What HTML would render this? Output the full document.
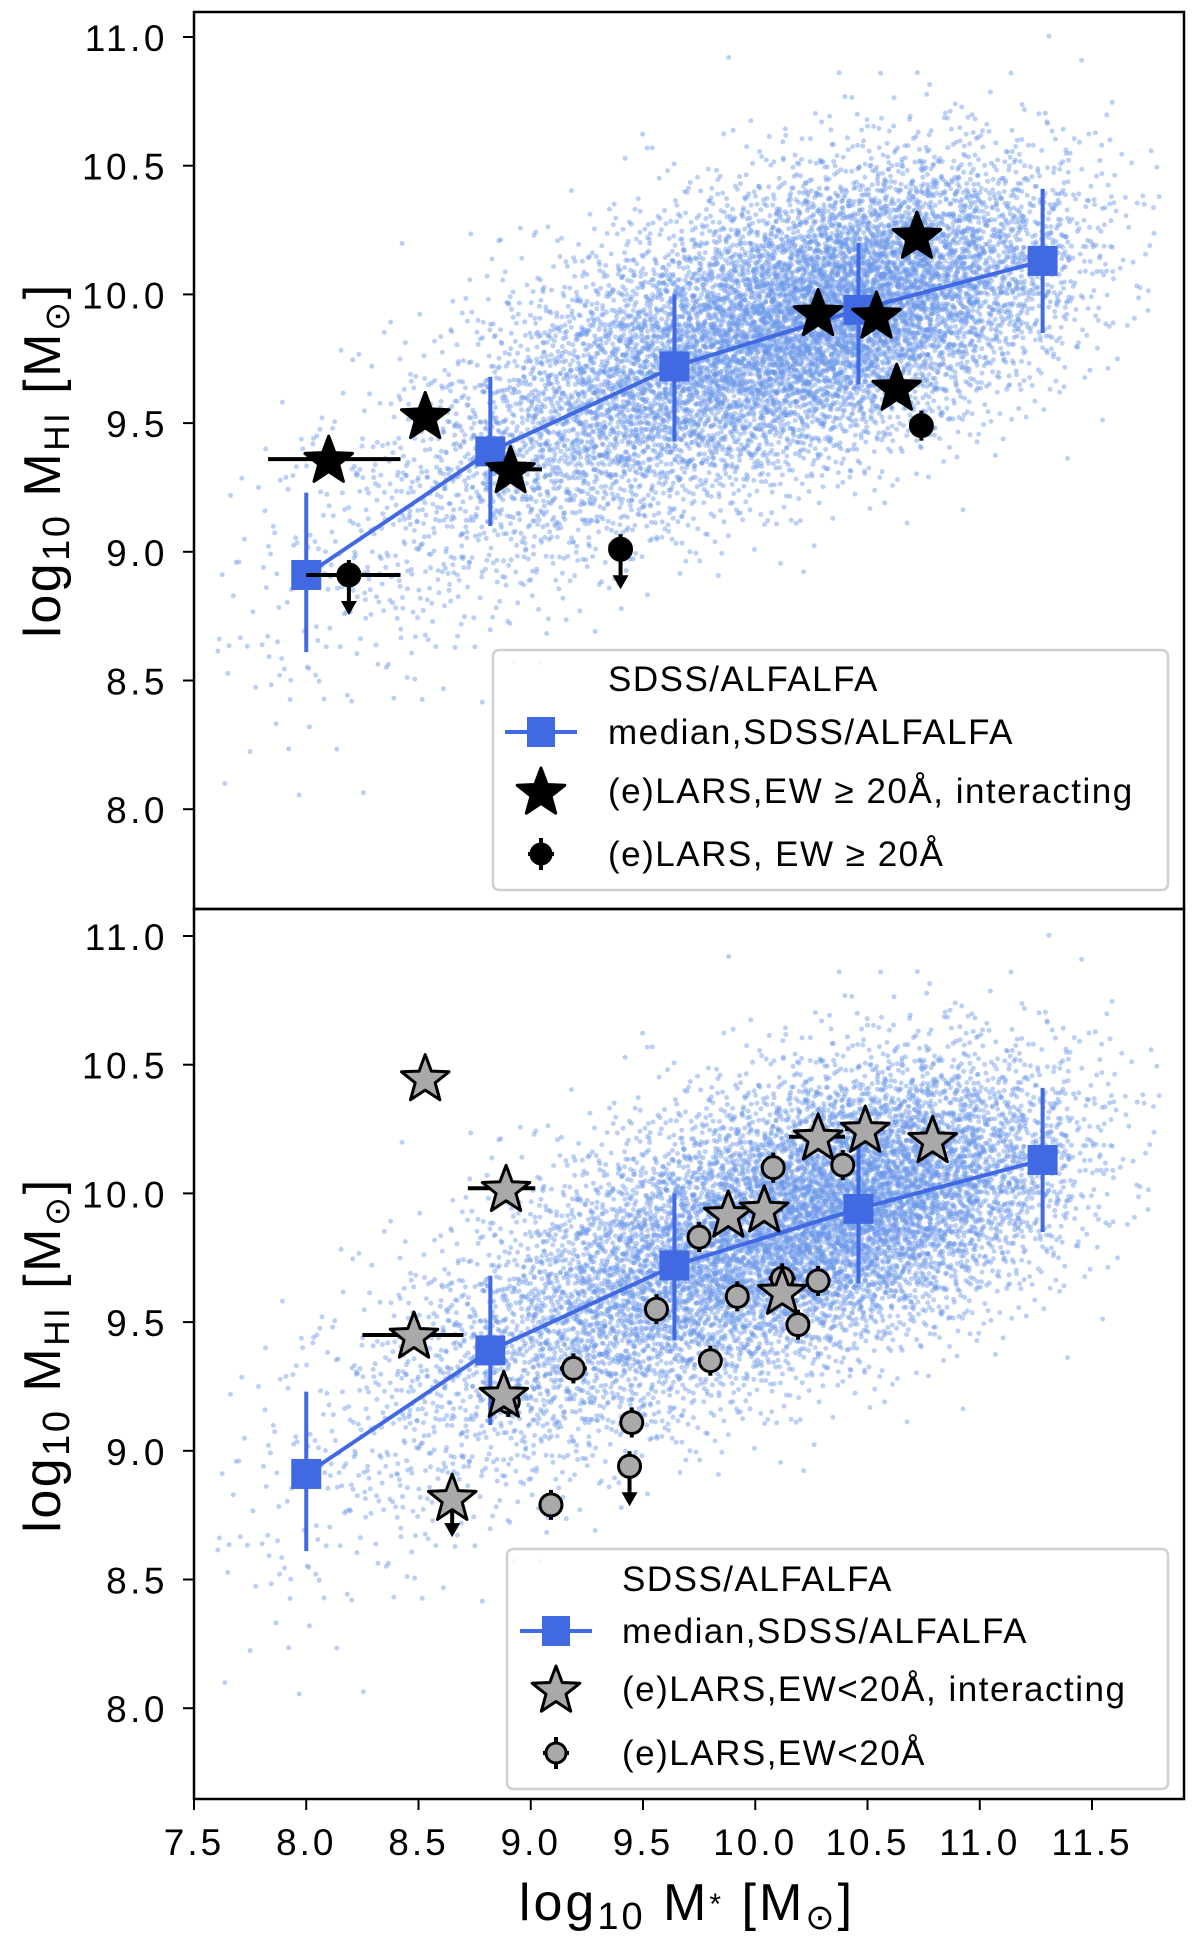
<!DOCTYPE html>
<html><head><meta charset="utf-8"><style>
html,body{margin:0;padding:0;background:#fff;}
svg{display:block;font-family:"Liberation Sans",sans-serif;}
</style></head><body>
<svg id="fig" width="1200" height="1941" viewBox="0 0 1200 1941" xmlns="http://www.w3.org/2000/svg"></svg>
<script>
// ---- data ----
const xTicks = [7.5, 8.0, 8.5, 9.0, 9.5, 10.0, 10.5, 11.0, 11.5];
const xTickLabels = ["7.5","8.0","8.5","9.0","9.5","10.0","10.5","11.0","11.5"];
const yTicks = [8.0, 8.5, 9.0, 9.5, 10.0, 10.5, 11.0];
const yTickLabels = ["8.0","8.5","9.0","9.5","10.0","10.5","11.0"];
// background cloud, per stellar-mass bin (width 0.2): centre, count, mean HI, spread
const cloudBinX = [7.7,7.9,8.1,8.3,8.5,8.7,8.9,9.1,9.3,9.5,9.7,9.9,10.1,10.3,10.5,10.7,10.9,11.1,11.3,11.5,11.7];
const cloudCount = [18,40,60,95,150,220,320,450,590,730,870,1000,1140,1230,1190,1000,730,450,240,95,28];
const cloudMean = [8.8,8.9,9.0,9.1,9.2,9.33,9.42,9.5,9.58,9.66,9.73,9.8,9.86,9.92,9.97,10.02,10.06,10.1,10.14,10.18,10.2];
const cloudSd = [0.35,0.35,0.34,0.33,0.32,0.31,0.3,0.3,0.29,0.29,0.28,0.28,0.27,0.27,0.26,0.26,0.26,0.25,0.25,0.25,0.25];
// median relation
const medX = [8.0, 8.82, 9.64, 10.46, 11.28];
const medY = [8.91, 9.39, 9.72, 9.94, 10.13];
const medLo = [8.61, 9.10, 9.43, 9.65, 9.85];
const medHi = [9.23, 9.68, 10.0, 10.2, 10.41];
// top panel: EW >= 20A
const topStarX = [8.1, 8.53, 8.91, 10.28, 10.54, 10.72, 10.63];
const topStarY = [9.36, 9.53, 9.32, 9.93, 9.92, 10.23, 9.64];
const topStarXLo = [7.83, null, 8.82, null, null, null, null];
const topStarXHi = [8.42, null, 9.05, null, null, null, null];
const topCircX = [8.19, 9.4, 10.74];
const topCircY = [8.91, 9.01, 9.49];
const topCircXLo = [8.0, null, null];
const topCircXHi = [8.42, null, null];
const topCircUL = [true, true, false];
// bottom panel: EW < 20A
const botStarX = [8.53, 8.89, 8.48, 8.88, 8.65, 9.88, 10.04, 10.28, 10.49, 10.79, 10.12];
const botStarY = [10.45, 10.02, 9.45, 9.22, 8.82, 9.92, 9.94, 10.22, 10.25, 10.21, 9.62];
const botStarXLo = [null, 8.72, 8.25, 8.83, null, null, 9.97, 10.15, 10.40, null, null];
const botStarXHi = [null, 9.02, 8.70, 8.93, null, null, 10.12, 10.40, 10.57, null, null];
const botStarUL = [false,false,false,false,true,false,false,false,false,false,false];
const botCircX = [9.09, 9.19, 8.9, 9.45, 9.44, 9.56, 9.75, 9.80, 9.92, 10.08, 10.12, 10.19, 10.28, 10.39];
const botCircY = [8.79, 9.32, 9.19, 9.11, 8.94, 9.55, 9.83, 9.35, 9.60, 10.10, 9.67, 9.49, 9.66, 10.11];
const botCircXLo = [9.05, 9.13, 8.86, null, null, null, null, null, null, null, 10.06, null, null, null];
const botCircXHi = [9.13, 9.25, 8.94, null, null, null, null, null, null, null, 10.18, null, null, null];
const botCircUL = [false,false,false,false,true,false,false,false,false,false,false,false,false,false];

// ---- layout ----
const NS = "http://www.w3.org/2000/svg";
const svg = document.getElementById('fig');
const L = 194, R = 1184, XMIN = 7.5, PXU = 224.5;
const X = v => L + (v - XMIN) * PXU;
const panels = [{top: 12, bot: 909, y11: 37}, {top: 909, bot: 1799, y11: 936}];
const PYU = 257.4;
function el(tag, attrs, parent) { const e = document.createElementNS(NS, tag); for (const k in attrs) e.setAttribute(k, attrs[k]); (parent || svg).appendChild(e); return e; }
function starPts(cx, cy, r) { let p = []; for (let i = 0; i < 10; i++) { const a = -Math.PI/2 + i*Math.PI/5; const rr = i%2 ? r*0.42 : r; p.push((cx+rr*Math.cos(a)).toFixed(1)+','+(cy+rr*Math.sin(a)).toFixed(1)); } return p.join(' '); }
function halton(i, b) { let f = 1, r = 0; while (i > 0) { f /= b; r += f * (i % b); i = Math.floor(i / b); } return r; }

panels.forEach((P, pi) => {
  const Y = v => P.y11 + (11 - v) * PYU;
  const g = el('g', {}, svg);
  
  
  const clipId = 'clip' + pi;
  const cp = el('clipPath', {id: clipId}, g); el('rect', {x: L, y: P.top, width: R - L, height: P.bot - P.top}, cp);
  // cloud
  const cg = el('g', {'clip-path': 'url(#' + clipId + ')', fill: '#6a96e8', 'fill-opacity': '0.45'}, g);
  
  
  let idx = 1;
  cloudBinX.forEach((bx, bi) => {
    for (let k = 0; k < cloudCount[bi]; k++, idx++) {
      const u = halton(idx, 2), v1 = Math.max(halton(idx, 3), 1e-4), v2 = halton(idx, 5);
      const gauss = Math.sqrt(-2 * Math.log(v1)) * Math.cos(2 * Math.PI * v2);
      const xv = bx - 0.1 + 0.2 * u;
      const yv = cloudMean[bi] + 0.35 * (xv - bx) + cloudSd[bi] * gauss;
      el('circle', {cx: X(xv).toFixed(1), cy: Y(yv).toFixed(1), r: 2.5}, cg);
    }
  });
  const dg = el('g', {'clip-path': 'url(#' + clipId + ')'}, g);
  // median
  const pts = medX.map((x, i) => X(x).toFixed(1) + ',' + Y(medY[i]).toFixed(1)).join(' ');
  const ml = el('polyline', {points: pts, fill: 'none', stroke: '#4169e1', 'stroke-width': 4}, dg);
  
  
  medX.forEach((x, i) => {
    const eb = el('line', {x1: X(x), x2: X(x), y1: Y(medLo[i]), y2: Y(medHi[i]), stroke: '#4169e1', 'stroke-width': 4}, dg);
    
    
    const sq = el('rect', {x: X(x) - 15, y: Y(medY[i]) - 15, width: 30, height: 30, fill: '#4169e1'}, dg);
    
    
  });
  const fill = pi === 0 ? '#000' : '#a9a9a9';
  const sx = pi === 0 ? topStarX : botStarX, sy = pi === 0 ? topStarY : botStarY;
  const sLo = pi === 0 ? topStarXLo : botStarXLo, sHi = pi === 0 ? topStarXHi : botStarXHi;
  const sUL = pi === 0 ? topStarX.map(() => false) : botStarUL;
  const cx = pi === 0 ? topCircX : botCircX, cy = pi === 0 ? topCircY : botCircY;
  const cLo = pi === 0 ? topCircXLo : botCircXLo, cHi = pi === 0 ? topCircXHi : botCircXHi;
  const cUL = pi === 0 ? topCircUL : botCircUL;
  function arrow(x, y) {
    el('line', {x1: x, x2: x, y1: y, y2: y + 32, stroke: '#000', 'stroke-width': 4}, dg);
    el('polygon', {points: `${x-8},${y+26} ${x+8},${y+26} ${x},${y+40}`, fill: '#000'}, dg);
  }
  cx.forEach((x, i) => {
    const px = X(x), py = Y(cy[i]);
    if (cLo[i] != null) el('line', {x1: X(cLo[i]), x2: X(cHi[i]), y1: py, y2: py, stroke: '#000', 'stroke-width': 4}, dg);
    el('line', {x1: px, x2: px, y1: py - 15, y2: py + 15, stroke: '#000', 'stroke-width': 4}, dg);
    if (cUL[i]) arrow(px, py);
    const c = el('circle', {cx: px, cy: py, r: 11, fill: fill, stroke: '#000', 'stroke-width': 3}, dg);
    
    
  });
  sx.forEach((x, i) => {
    const px = X(x), py = Y(sy[i]);
    if (sLo[i] != null) el('line', {x1: X(sLo[i]), x2: X(sHi[i]), y1: py, y2: py, stroke: '#000', 'stroke-width': 4}, dg);
    if (sUL[i]) arrow(px, py);
    const s = el('polygon', {points: starPts(px, py + 2, 25), fill: fill, stroke: '#000', 'stroke-width': 3, 'stroke-linejoin': 'round'}, dg);
    
    
  });
  // axes frame
  const fr = el('rect', {x: L, y: P.top, width: R - L, height: P.bot - P.top, fill: 'none', stroke: '#000', 'stroke-width': 2.5}, g);
  
  
  yTicks.forEach((t, i) => {
    const y = Y(t);
    el('line', {x1: L - 11, x2: L, y1: y, y2: y, stroke: '#000', 'stroke-width': 2}, g);
    const tx = el('text', {x: L - 26, y: y + 14, 'text-anchor': 'end', 'font-size': 37, 'letter-spacing': 3.5}, g);
    tx.textContent = yTickLabels[i];
    
    
  });
  const yl = el('text', {transform: `translate(60,${pi === 0 ? 460 : 1355}) rotate(-90)`, 'text-anchor': 'middle', 'font-size': 52, 'letter-spacing': 2.5}, g);
  yl.innerHTML = 'log<tspan font-size="38" dy="9">10</tspan><tspan dy="-9"> M</tspan><tspan font-size="35" dy="9">HI</tspan><tspan dy="-9"> [M</tspan><tspan font-size="35" dy="9">⊙</tspan><tspan dy="-9">]</tspan>';
  
  
  // legend
  const lg = el('g', {}, g);
  
  
  const bx = pi === 0 ? 493 : 507, by = pi === 0 ? 650 : 1549, bw = 1168 - bx, bh = 240;
  el('rect', {x: bx, y: by, width: bw, height: bh, rx: 6, fill: '#fff', 'fill-opacity': 0.85, stroke: '#d0d0d0', 'stroke-width': 2.5}, lg);
  const tx0 = pi === 0 ? 608 : 622, mx = pi === 0 ? 541 : 556;
  const rows = pi === 0 ? [679, 732, 791, 854] : [1579, 1631, 1689, 1753];
  const labels = pi === 0 ? ['SDSS/ALFALFA', 'median,SDSS/ALFALFA', '(e)LARS,EW ≥ 20Å, interacting', '(e)LARS, EW ≥ 20Å']
                          : ['SDSS/ALFALFA', 'median,SDSS/ALFALFA', '(e)LARS,EW<20Å, interacting', '(e)LARS,EW<20Å'];
  labels.forEach((t, i) => {
    const e = el('text', {x: tx0, y: rows[i] + 12, 'font-size': 35, 'letter-spacing': 1.5}, lg);
    e.textContent = t;
    
    
  });
  el('line', {x1: mx - 36, x2: mx + 36, y1: rows[1], y2: rows[1], stroke: '#4169e1', 'stroke-width': 4}, lg);
  el('rect', {x: mx - 14, y: rows[1] - 15, width: 28, height: 30, fill: '#4169e1'}, lg);
  el('polygon', {points: starPts(mx, rows[2] + 2, 25), fill: fill, stroke: '#000', 'stroke-width': 3, 'stroke-linejoin': 'round'}, lg);
  el('line', {x1: mx, x2: mx, y1: rows[3] - 16, y2: rows[3] + 16, stroke: '#000', 'stroke-width': 4}, lg);
  el('line', {x1: mx - 13, x2: mx + 13, y1: rows[3], y2: rows[3], stroke: '#000', 'stroke-width': 4}, lg);
  el('circle', {cx: mx, cy: rows[3], r: 10, fill: fill, stroke: '#000', 'stroke-width': 3}, lg);
});
// x axis ticks (bottom)
xTicks.forEach((t, i) => {
  el('line', {x1: X(t), x2: X(t), y1: 1799, y2: 1810, stroke: '#000', 'stroke-width': 2});
  const tx = el('text', {x: X(t), y: 1855, 'text-anchor': 'middle', 'font-size': 37, 'letter-spacing': 3});
  tx.textContent = xTickLabels[i];
  
  
});
const xl = el('text', {x: 687, y: 1920, 'text-anchor': 'middle', 'font-size': 52, 'letter-spacing': 3});
xl.innerHTML = 'log<tspan font-size="38" dy="9">10</tspan><tspan dy="-9"> M</tspan><tspan font-size="30" dy="-6">*</tspan><tspan dy="6">  [M</tspan><tspan font-size="35" dy="9">⊙</tspan><tspan dy="-9">]</tspan>';


</script>
</body></html>
